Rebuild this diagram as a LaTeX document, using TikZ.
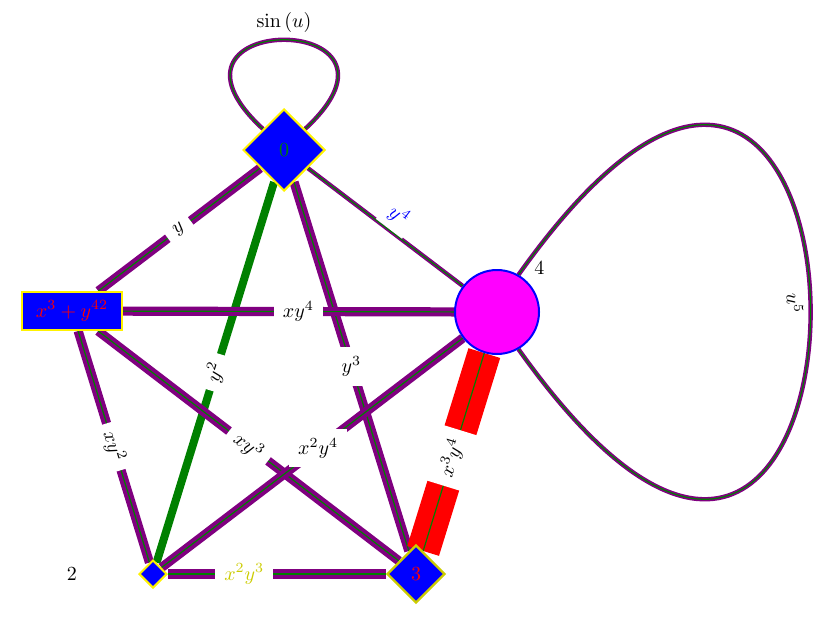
\documentclass[tikz,border=0pt]{standalone}
\usetikzlibrary{shapes.geometric}
\definecolor{epurple}{RGB}{128,0,128}
\definecolor{egreen}{RGB}{0,128,0}
\definecolor{olivey}{RGB}{204,204,0}
\definecolor{emagenta}{RGB}{255,0,255}
\pgfdeclarelayer{background}
\pgfsetlayers{background,main}
\tikzset{
  dline/.style={draw=epurple, line width=2pt, double=egreen, double distance=0.6pt},
  thinline/.style={draw=epurple, line width=0.8pt, double=egreen, double distance=0.6pt},
  redline/.style={draw=red, line width=8pt, double=egreen, double distance=0.6pt},
  greenline/.style={draw=egreen, line width=4pt},
  elab/.style={fill=white, inner sep=4.5pt},
  dnode/.style={diamond, fill=blue, inner sep=0pt},
}
\begin{document}
\begin{tikzpicture}[x=0.5pt, y=-0.5pt]
\useasboundingbox (0,0) rectangle (833,621);
\node[dnode, draw=yellow, line width=1pt, minimum size=41pt, text=egreen] (n0) at (284,150) {0};
\node[rectangle, fill=blue, draw=yellow, line width=1pt, minimum width=50pt, minimum height=19pt, inner sep=0pt, text=red] (n1) at (72,311) {$x^3+y^{42}$};
\node[dnode, draw=yellow, line width=1pt, minimum size=14pt, label={[label distance=27pt]left:2}] (n2) at (153,574) {};
\node[dnode, draw=olivey, line width=1.2pt, minimum size=29pt, text=red] (n3) at (416,574) {3};
\node[circle, fill=emagenta, draw=blue, line width=1pt, minimum size=42pt, inner sep=0pt, label={45:4}] (n4) at (497,312) {};
\begin{pgfonlayer}{background}
\draw[dline] (n0) -- node[elab, sloped] {$y$} (n1);
\draw[greenline] (n0) -- node[elab, sloped] {$y^2$} (n2);
\draw[dline] (n0) -- node[elab] {$y^3$} (n3);
\draw[thinline] (n0) -- node[fill=white, sloped, above, pos=0.52, text=blue] {$y^4$} (n4);
\draw[dline] (n1) -- node[elab, pos=0.53] {$xy^4$} (n4);
\draw[dline] (n1) -- node[elab, sloped] {$xy^2$} (n2);
\draw[dline] (n1) -- node[elab, sloped, pos=0.5] {$xy^3$} (n3);
\draw[dline] (n4) -- node[elab, pos=0.48] {$x^2y^4$} (n2);
\draw[dline] (n2) -- node[elab, pos=0.35, text=olivey] {$x^2y^3$} (n3);
\draw[redline] (n4) -- node[elab, sloped, pos=0.53] {$x^3y^4$} (n3);
\draw[thinline] (n0.45) .. controls (434,10) and (134,10) .. node[above] {$\sin\left(u\right)$} (n0.135);
\draw[thinline] (n4.60) .. controls (908,-273) and (908,897) .. node[sloped, below, pos=0.49] {$u^5$} (n4.-60);
\end{pgfonlayer}
\end{tikzpicture}
\end{document}
